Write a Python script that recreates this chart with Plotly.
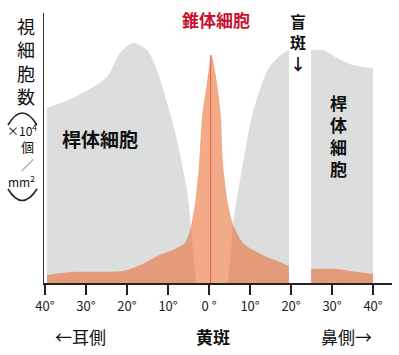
import plotly.graph_objects as go

# ---- data (eccentricity in degrees, density in x10^4 / mm^2) ----
rod_temporal_x = [-39.5, -33.2, -24.9, -21.7, -18.5, -15.1, -12.7, -10.2, -7.8, -5.4, -4.6, -3.9, -3.2]
rod_temporal_y = [11.67, 12.33, 13.73, 15.33, 16.0, 15.53, 14.2, 12.0, 9.53, 6.2, 4.4, 2.2, 0.0]
rod_nasal_in_x = [4.6, 5.4, 5.9, 8.3, 10.7, 14.5, 17.5, 19.5]
rod_nasal_in_y = [0.0, 2.2, 4.0, 8.0, 11.33, 14.3, 15.2, 15.53]
rod_nasal_out_x = [24.9, 27.8, 31.2, 35.1, 40.0]
rod_nasal_out_y = [15.53, 15.53, 15.0, 14.53, 14.33]

cone_main_x = [-39.5, -33.2, -21.0, -16.8, -12.0, -8.8, -5.9, -4.6, -3.4, -2.4, -1.7, -0.5,
               0.6, 1.95, 2.9, 3.4, 4.6, 5.9, 8.3, 11.2, 14.1, 17.3, 19.5]
cone_main_y = [0.53, 0.73, 0.8, 1.2, 1.87, 2.2, 2.67, 3.53, 5.33, 8.0, 11.07, 13.33,
               15.2, 13.33, 11.07, 8.0, 5.33, 3.87, 2.67, 2.13, 1.73, 1.4, 1.13]
cone_outer_x = [24.9, 31.2, 36.1, 40.0]
cone_outer_y = [0.93, 0.93, 0.73, 0.6]

fovea_x = 0.4
fovea_peak = 15.2

tick_vals = [-40, -30, -20, -10, 0, 10, 20, 30, 40]
tick_text = ["40°", "30°", "20°", "10°", "0 °", "10°", "20°", "30°", "40°"]

GRAY = "#dcdddd"
ORANGE = "rgba(232,106,45,0.57)"
FONT = "Noto Sans CJK JP"

fig = go.Figure()
for xs, ys in [(rod_temporal_x, rod_temporal_y), (rod_nasal_in_x, rod_nasal_in_y),
               (rod_nasal_out_x, rod_nasal_out_y)]:
    fig.add_trace(go.Scatter(x=xs, y=ys, mode="lines", fill="tozeroy", fillcolor=GRAY,
                             line=dict(width=0, color=GRAY, shape="spline", smoothing=0.8),
                             hoverinfo="skip", showlegend=False))
for xs, ys in [(cone_main_x, cone_main_y), (cone_outer_x, cone_outer_y)]:
    fig.add_trace(go.Scatter(x=xs, y=ys, mode="lines", fill="tozeroy", fillcolor=ORANGE,
                             line=dict(width=0, color=ORANGE, shape="spline", smoothing=0.7),
                             hoverinfo="skip", showlegend=False))
fig.add_trace(go.Scatter(x=[fovea_x, fovea_x], y=[0, fovea_peak], mode="lines",
                         line=dict(color="#e8603c", width=1), hoverinfo="skip", showlegend=False))

L, R, T, B = 44, 7, 13, 72
W, H = 399, 355
PW, PH = W - L - R, H - T - B


def px(x):
    return (x - L) / PW


def py(y):
    return (H - B - y) / PH


anns = []


def txt(s, x, y, size, bold=False, color="#111111"):
    anns.append(dict(text=s, x=px(x), y=py(y), xref="paper", yref="paper",
                     xanchor="center", yanchor="middle", showarrow=False,
                     font=dict(family=FONT, size=size, color=color,
                               weight="bold" if bold else "normal")))


# y-axis title
txt("視<br>細<br>胞<br>数", 26, 61, 18)
txt("×10<sup>4</sup>", 22, 130, 12)
txt("個", 27, 146, 13)
txt("／", 27, 164, 13, color="#666666")
txt("mm<sup>2</sup>", 21, 181, 12)

# in-plot labels
txt("錐体細胞", 216, 20, 17, bold=True, color="#c8102e")
txt("桿体細胞", 100, 138, 19, bold=True)
txt("桿<br>体<br>細<br>胞", 338, 135, 17, bold=True)
txt("盲<br>斑<br>↓", 298, 42, 16, bold=True)

# bottom labels
txt("←耳側", 80, 336, 17)
txt("黄斑", 213, 336, 17, bold=True)
txt("鼻側→", 346, 336, 17)

shapes = [
    dict(type="path", xref="paper", yref="paper",
         path=f"M {px(8)},{py(125)} Q {px(22)},{py(101)} {px(37)},{py(125)}",
         line=dict(color="#222222", width=1.6)),
    dict(type="path", xref="paper", yref="paper",
         path=f"M {px(8)},{py(189)} Q {px(22)},{py(212)} {px(37)},{py(189)}",
         line=dict(color="#222222", width=1.6)),
]

fig.update_layout(
    width=W, height=H, margin=dict(l=L, r=R, t=T, b=B),
    paper_bgcolor="white", plot_bgcolor="white",
    annotations=anns, shapes=shapes,
    xaxis=dict(range=[-40.24, 44.63], tickvals=tick_vals, ticktext=tick_text,
               showgrid=False, zeroline=False, showline=True, linecolor="#222222", linewidth=2,
               ticks="outside", ticklen=10, tickwidth=1.5, tickcolor="#222222",
               tickfont=dict(family=FONT, size=13, color="#222222")),
    yaxis=dict(range=[0, 18], showgrid=False, zeroline=False, showticklabels=False,
               showline=True, linecolor="#333333", linewidth=1.3, ticks=""),
)

fig.write_html("out.html", config={"displayModeBar": False},
               post_script="document.body.style.margin='0';")
